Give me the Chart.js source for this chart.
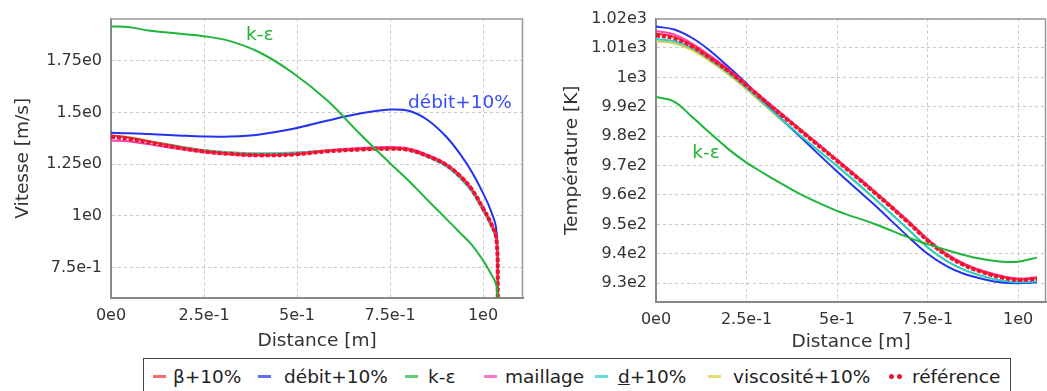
<!DOCTYPE html>
<html>
<head>
<meta charset="utf-8">
<script src="https://cdn.jsdelivr.net/npm/chart.js@4.4.1/dist/chart.umd.min.js"></script>
<style>
    html, body { margin: 0; padding: 0; background: #fff; }
    body { width: 1047px; height: 391px; position: relative; overflow: hidden; font-family: "DejaVu Sans", sans-serif; }
    #velBox { position: absolute; left: 0; top: 0; }
    #tempBox { position: absolute; left: 540px; top: 0; }
    #legend {
        position: absolute; left: 143px; top: 358px; width: 868px; height: 36px;
        border: 1px solid #444; box-sizing: border-box;
        font-size: 18.5px; color: #222;
    }
    .item { position: absolute; top: 0; height: 34px; display: flex; align-items: center; white-space: nowrap; }
    .mark { width: 13px; height: 3px; flex: none; }
    .dots { display: flex; flex: none; }
    .dots span { width: 5px; height: 5px; border-radius: 50%; margin-right: 3px; }
</style>
</head>
<body>
<div id="velBox"><canvas id="velChart" width="530" height="356"></canvas></div>
<div id="tempBox"><canvas id="tempChart" width="507" height="356"></canvas></div>
<div id="legend"></div>

<script>
// séries (ordre de la légende)
const seriesNames = ['β+10%', 'débit+10%', 'k-ε', 'maillage', 'd+10%', 'viscosité+10%', 'référence'];
const seriesColors = ['#ff2a2a', '#2233ee', '#1fb53a', '#ff3fb0', '#22d2d2', '#d6cc3c', '#ee1133'];

// Vitesse [m/s] le long de la distance [m]
const velDist = [0, 0.05, 0.10, 0.18, 0.25, 0.32, 0.40, 0.49, 0.58, 0.67, 0.75, 0.80, 0.85, 0.90, 0.94, 0.97, 1.0, 1.02, 1.036, 1.04];
const velBeta = [1.390, 1.378, 1.360, 1.333, 1.313, 1.301, 1.294, 1.298, 1.313, 1.322, 1.326, 1.320, 1.291, 1.249, 1.191, 1.129, 1.038, 0.970, 0.891, 0.58];
const velDebit = [1.402, 1.400, 1.396, 1.389, 1.384, 1.384, 1.394, 1.421, 1.460, 1.495, 1.514, 1.508, 1.465, 1.385, 1.295, 1.212, 1.110, 1.030, 0.930, 0.58];
const velKeps = [1.917, 1.912, 1.897, 1.882, 1.869, 1.845, 1.790, 1.690, 1.560, 1.395, 1.255, 1.170, 1.078, 0.988, 0.915, 0.860, 0.785, 0.725, 0.665, 0.58];
const velMaillage = [1.365, 1.360, 1.347, 1.325, 1.308, 1.298, 1.292, 1.298, 1.316, 1.328, 1.333, 1.326, 1.296, 1.252, 1.193, 1.130, 1.039, 0.970, 0.891, 0.58];
const velD = [1.385, 1.378, 1.362, 1.337, 1.318, 1.307, 1.302, 1.305, 1.316, 1.324, 1.327, 1.318, 1.285, 1.240, 1.180, 1.117, 1.025, 0.956, 0.878, 0.58];
const velVisc = [1.388, 1.380, 1.364, 1.338, 1.319, 1.308, 1.303, 1.306, 1.317, 1.325, 1.328, 1.319, 1.287, 1.242, 1.183, 1.120, 1.028, 0.959, 0.880, 0.58];
const velRef = [1.382, 1.372, 1.356, 1.330, 1.311, 1.300, 1.293, 1.297, 1.312, 1.321, 1.325, 1.319, 1.290, 1.248, 1.190, 1.128, 1.037, 0.969, 0.890, 0.58];

// Température [K] le long de la distance [m]
const tempDist = [0, 0.05, 0.10, 0.15, 0.20, 0.25, 0.30, 0.35, 0.40, 0.50, 0.60, 0.70, 0.75, 0.80, 0.85, 0.90, 0.95, 1.0, 1.052];
const tempBeta = [1014.9, 1013.8, 1010.8, 1006.7, 1002.3, 997.3, 992.1, 987.0, 981.9, 971.7, 961.3, 950.4, 944.6, 939.8, 936.3, 933.9, 932.2, 931.2, 931.6];
const tempDebit = [1017.3, 1016.3, 1013.4, 1009.0, 1003.6, 997.9, 991.6, 985.5, 979.6, 968.0, 957.0, 945.4, 940.0, 936.0, 933.2, 931.5, 930.3, 930.0, 930.3];
const tempKeps = [993.3, 991.8, 986.5, 981.0, 975.6, 971.0, 967.2, 963.6, 960.2, 954.6, 950.3, 945.4, 943.3, 941.4, 939.6, 938.2, 937.4, 937.3, 938.7];
const tempMaillage = [1015.8, 1014.6, 1011.5, 1007.3, 1002.8, 997.7, 992.5, 987.4, 982.3, 972.1, 961.7, 950.8, 945.0, 940.2, 936.7, 934.3, 932.6, 931.6, 932.0];
const tempD = [1013.0, 1012.3, 1010.0, 1006.0, 1001.6, 996.5, 990.9, 985.4, 980.1, 969.9, 959.2, 947.9, 942.2, 937.8, 934.6, 932.5, 931.0, 930.3, 930.7];
const tempVisc = [1012.3, 1011.6, 1009.3, 1005.4, 1001.0, 996.0, 990.5, 985.1, 979.9, 969.8, 959.1, 947.8, 942.1, 937.7, 934.5, 932.4, 930.9, 930.2, 930.6];
const tempRef = [1014.3, 1013.3, 1010.5, 1006.5, 1002.2, 997.2, 992.0, 986.9, 981.8, 971.6, 961.2, 950.3, 944.5, 939.7, 936.2, 933.8, 932.1, 931.1, 931.5];

// graduations
const distTicks = [0, 0.25, 0.5, 0.75, 1];
const distTickLabels = ['0e0', '2.5e-1', '5e-1', '7.5e-1', '1e0'];
const velTicks = [0.75, 1, 1.25, 1.5, 1.75];
const velTickLabels = ['7.5e-1', '1e0', '1.25e0', '1.5e0', '1.75e0'];
const tempTicks = [930, 940, 950, 960, 970, 980, 990, 1000, 1010, 1020];
const tempTickLabels = ['9.3e2', '9.4e2', '9.5e2', '9.6e2', '9.7e2', '9.8e2', '9.9e2', '1e3', '1.01e3', '1.02e3'];

// étiquettes dans le graphe: texte, distance, valeur, index de série
const velNotes = [['k-ε', 0.40, 1.873, 2], ['débit+10%', 0.938, 1.546, 1]];
const tempNotes = [['k-ε', 0.138, 974.3, 2]];

// mise en page de la légende (px depuis le bord gauche de la page)
const legendMarkX = [153, 258, 405, 484, 595, 708, 889];
const legendTextX = [173, 284, 428, 505, 618, 733, 912];

const FONT = '"DejaVu Sans", sans-serif';

const framePlugin = {
    id: 'frame',
    beforeDatasetsDraw(chart) {
        const { ctx, chartArea: a } = chart;
        ctx.save();
        ctx.strokeStyle = '#999';
        ctx.lineWidth = 1.5;
        ctx.beginPath();
        ctx.moveTo(a.left, a.top + 0.5);
        ctx.lineTo(a.right - 0.5, a.top + 0.5);
        ctx.lineTo(a.right - 0.5, a.bottom);
        ctx.stroke();
        ctx.restore();
    },
    afterDatasetsDraw(chart, args, opts) {
        const { ctx, scales } = chart;
        ctx.save();
        ctx.font = '18.5px ' + FONT;
        ctx.textAlign = 'center';
        ctx.textBaseline = 'middle';
        (opts.notes || []).forEach(([text, x, y, idx]) => {
            ctx.fillStyle = idx === 1 ? '#3a4cf5' : '#22b035';
            ctx.fillText(text, scales.x.getPixelForValue(x), scales.y.getPixelForValue(y));
        });
        ctx.restore();
    }
};

function makeDatasets(xs, series) {
    const orders = [2, 5, -1, 3, 4, 6, 0];
    return series.map((ys, i) => ({
        label: seriesNames[i],
        data: xs.map((x, j) => ({ x: x, y: ys[j] })),
        borderColor: seriesColors[i],
        backgroundColor: seriesColors[i],
        borderWidth: i === 6 ? 4 : 2,
        borderDash: i === 6 ? [4, 2] : [],
        pointRadius: 0,
        fill: false,
        tension: 0.4,
        order: orders[i]
    }));
}

function makeChart(canvasId, datasets, opts) {
    const tickFont = { family: FONT, size: 16 };
    const titleFont = { family: FONT, size: 18.5 };
    return new Chart(document.getElementById(canvasId), {
        type: 'line',
        data: { datasets: datasets },
        plugins: [framePlugin],
        options: {
            responsive: false,
            animation: false,
            devicePixelRatio: 1,
            layout: { padding: { top: 13, right: opts.padRight, left: 0, bottom: 0 } },
            plugins: {
                legend: { display: false },
                tooltip: { enabled: false },
                frame: { notes: opts.notes }
            },
            scales: {
                x: {
                    type: 'linear',
                    min: 0,
                    max: opts.xMax,
                    afterBuildTicks: s => { s.ticks = distTicks.map(v => ({ value: v })); },
                    afterFit: s => { s.height = opts.xHeight; },
                    ticks: {
                        font: tickFont, color: '#333', padding: 8, maxRotation: 0,
                        callback: v => distTickLabels[distTicks.indexOf(v)]
                    },
                    grid: { color: '#c8c8c8', drawTicks: false },
                    border: { color: '#888', width: 2, dash: [3, 3] },
                    title: { display: true, text: 'Distance [m]', font: titleFont, color: '#333', padding: { top: 0, bottom: opts.xTitlePad } }
                },
                y: {
                    type: 'linear',
                    min: opts.yMin,
                    max: opts.yMax,
                    afterBuildTicks: s => { s.ticks = opts.yTicks.map(v => ({ value: v })); },
                    afterFit: s => { s.width = opts.yWidth; },
                    ticks: {
                        font: tickFont, color: '#333', padding: 9,
                        callback: v => opts.yLabels[opts.yTicks.indexOf(v)]
                    },
                    grid: { color: '#c8c8c8', drawTicks: false },
                    border: { color: '#888', width: 2, dash: [3, 3] },
                    title: { display: true, text: opts.yTitle, font: titleFont, color: '#333', padding: { top: opts.yTitlePad, bottom: 0 } }
                }
            }
        }
    });
}

makeChart('velChart',
    makeDatasets(velDist, [velBeta, velDebit, velKeps, velMaillage, velD, velVisc, velRef]),
    { xMax: 1.1075, yMin: 0.603, yMax: 1.954, yTicks: velTicks, yLabels: velTickLabels,
      yTitle: 'Vitesse [m/s]', yWidth: 111, xHeight: 58, padRight: 7, xTitlePad: 4, yTitlePad: 12, notes: velNotes });

makeChart('tempChart',
    makeDatasets(tempDist, [tempBeta, tempDebit, tempKeps, tempMaillage, tempD, tempVisc, tempRef]),
    { xMax: 1.077, yMin: 923.6, yMax: 1020, yTicks: tempTicks, yLabels: tempTickLabels,
      yTitle: 'Température [K]', yWidth: 116, xHeight: 54, padRight: 1, xTitlePad: 3, yTitlePad: 21, notes: tempNotes });

// légende commune
const legend = document.getElementById('legend');
const legendLeft = 143;
seriesNames.forEach((name, i) => {
    const item = document.createElement('div');
    item.className = 'item';
    item.style.left = (legendMarkX[i] - legendLeft - 1) + 'px';
    const gap = legendTextX[i] - legendMarkX[i];
    let marker;
    if (i === 6) {
        marker = '<div class="dots" style="width:' + gap + 'px"><span style="background:' + seriesColors[i] + '"></span><span style="background:' + seriesColors[i] + '"></span></div>';
    } else {
        marker = '<div class="mark" style="background:' + seriesColors[i] + ';opacity:0.7;margin-right:' + (gap - 13) + 'px"></div>';
    }
    const label = name === 'd+10%' ? '<u>d</u>+10%' : name;
    item.innerHTML = marker + '<span>' + label + '</span>';
    legend.appendChild(item);
});
</script>
</body>
</html>
